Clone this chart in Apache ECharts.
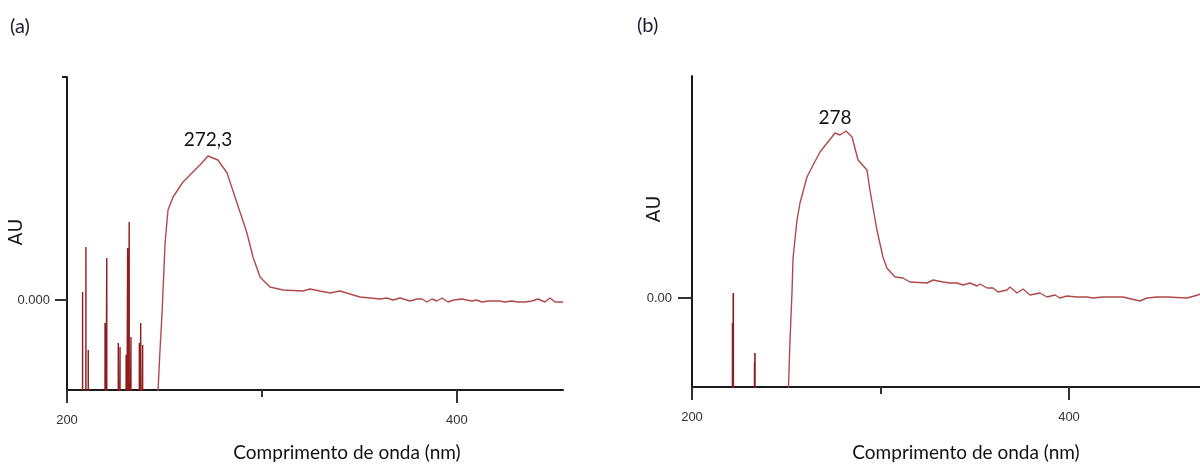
<!DOCTYPE html>
<html>
<head>
<meta charset="utf-8">
<script src="https://cdn.jsdelivr.net/npm/echarts@6/dist/echarts.min.js"></script>
<style>
html,body{margin:0;padding:0;background:#fff;}
#chart{width:1200px;height:466px;}
</style>
</head>
<body>
<div id="chart"></div>
<script>
// ---------- data ----------
const panelLabels = ['(a)', '(b)'];
const peakLabels = ['272,3', '278'];
const peakA = [272.3, 0.144];
const peakB = [275.9, 0.165];
const xAxisName = 'Comprimento de onda (nm)';
const yAxisName = 'AU';
const xTickLabels = [200, 400];
const xMinorTicks = [300];
const yTickValues = [0];

// spike tops (wavelength nm, AU) – spikes rise from below the axis
const spikesA = [
  [208.0, 0.008], [209.7, 0.053], [210.9, -0.050],
  [219.5, -0.023], [220.4, 0.042],
  [226.3, -0.043], [227.2, -0.047], [230.3, -0.055],
  [231.1, 0.052], [231.9, 0.078], [232.8, -0.037],
  [237.1, -0.043], [237.8, -0.023], [238.8, -0.045]
];
const spikesB = [
  [221.5, -0.025], [221.9, 0.005],
  [233.2, -0.064], [233.4, -0.055]
];

// main absorption curves (wavelength nm, AU)
const curveA = [
  [246.5, -0.3], [246.7, -0.09], [247.7, -0.05], [248.7, -0.015], [249.5, 0.02],
  [250.3, 0.057], [251.8, 0.090], [254.4, 0.103], [259.5, 0.118], [264.6, 0.128],
  [268.2, 0.135], [272.3, 0.144], [277.4, 0.140], [282.1, 0.127], [287.2, 0.097],
  [292.3, 0.067], [295.4, 0.043], [299.0, 0.023], [304.1, 0.013], [310.8, 0.010],
  [321.0, 0.009], [324.6, 0.011], [329.7, 0.009], [334.9, 0.007], [340.0, 0.009],
  [345.1, 0.006], [350.3, 0.003], [355.4, 0.002], [360.5, 0.001], [364.1, 0.002],
  [367.2, 0.000], [370.8, 0.002], [375.9, -0.001], [379.5, 0.001], [382.1, 0.001],
  [384.6, -0.002], [387.2, 0.001], [389.7, -0.001], [392.3, 0.002], [395.4, -0.002],
  [398.5, 0.000], [402.6, 0.001], [405.0, 0.000], [407.7, -0.001], [410.0, 0.000],
  [412.8, -0.002], [416.0, -0.001], [419.5, -0.001], [422.0, -0.001], [424.6, -0.002],
  [428.0, -0.001], [431.3, -0.002], [435.0, -0.002], [438.5, -0.001], [441.5, 0.001],
  [445.1, -0.002], [447.7, 0.002], [450.3, -0.002], [454.4, -0.002]
];
const curveB = [
  [250.7, -0.3], [251.2, -0.089], [252.0, -0.042], [253.1, 0.008], [253.6, 0.040],
  [254.6, 0.058], [255.7, 0.078], [257.3, 0.095], [261.0, 0.121], [263.7, 0.131],
  [267.9, 0.146], [272.1, 0.156], [275.9, 0.165], [278.5, 0.163], [281.7, 0.167],
  [284.9, 0.161], [288.1, 0.138], [292.8, 0.128], [294.4, 0.108], [298.1, 0.068],
  [301.3, 0.041], [303.4, 0.030], [307.7, 0.021], [311.9, 0.020], [315.6, 0.016],
  [324.7, 0.015], [327.9, 0.018], [333.2, 0.016], [336.9, 0.015], [340.6, 0.015],
  [343.8, 0.013], [347.5, 0.015], [351.2, 0.012], [352.8, 0.014], [356.5, 0.010],
  [359.7, 0.010], [362.3, 0.006], [367.1, 0.008], [368.7, 0.011], [372.4, 0.005],
  [375.6, 0.009], [379.3, 0.003], [384.6, 0.005], [388.3, 0.001], [392.6, 0.003],
  [395.2, 0.000], [398.9, 0.002], [404.2, 0.001], [409.5, 0.001], [412.7, 0.000],
  [418.0, 0.001], [428.6, 0.001], [437.7, -0.003], [441.4, 0.000], [446.7, 0.001],
  [452.0, 0.001], [462.6, 0.000], [468.4, 0.003], [469.5, 0.004]
];

// ---------- helpers ----------
const SPIKE_BASE = -0.3;
function spikeLine(tops) {
  const out = [];
  tops.forEach(([x, v]) => {
    out.push([x - 0.05, SPIKE_BASE], [x, v], [x + 0.05, SPIKE_BASE]);
  });
  return out;
}

const axisColor = '#1a1a1a';
const labelFont = { fontFamily: 'Liberation Sans', fontSize: 13, color: '#333' };
const nameFont = { fontFamily: 'Lato', fontSize: 19, color: '#111' };

function mainX(gridIndex, max, nameShift, nameGap) {
  return {
    type: 'value', gridIndex, min: 200, max,
    position: 'bottom',
    axisLine: { show: true, onZero: false, lineStyle: { color: axisColor, width: 2 } },
    axisTick: { show: true, customValues: xTickLabels, length: 13, inside: false,
                lineStyle: { color: '#333', width: 2 } },
    axisLabel: { show: true, customValues: xTickLabels, margin: 24, ...labelFont },
    splitLine: { show: false },
    name: xAxisName, nameLocation: 'middle', nameGap,
    nameTextStyle: { ...nameFont, padding: [0, 0, 0, nameShift] }
  };
}
function minorX(gridIndex, max) {
  return {
    type: 'value', gridIndex, min: 200, max, position: 'bottom', offset: 0,
    axisLine: { show: false, onZero: false },
    axisTick: { show: true, customValues: xMinorTicks, length: 7,
                lineStyle: { color: '#333', width: 2 } },
    axisLabel: { show: false }, splitLine: { show: false }
  };
}
function mainY(gridIndex, min, max, digits, margin, tickLen) {
  return {
    type: 'value', gridIndex, min, max, position: 'left',
    axisLine: { show: true, onZero: false, lineStyle: { color: axisColor, width: 2 } },
    axisTick: { show: true, customValues: yTickValues, length: tickLen,
                lineStyle: { color: '#333', width: 2 } },
    axisLabel: { show: true, customValues: yTickValues, margin,
                 formatter: v => v.toFixed(digits), ...labelFont },
    splitLine: { show: false }
  };
}

const curveColor = '#b04a4a';
const spikeColor = '#8e1d1d';

const option = {
  animation: false,
  backgroundColor: '#fff',
  grid: [
    { left: 67, top: 77, width: 496, height: 313, outerBoundsMode: 'none', containLabel: false },
    { left: 692, top: 76, width: 508, height: 311, outerBoundsMode: 'none', containLabel: false }
  ],
  xAxis: [
    mainX(0, 454.4, 64, 53),
    mainX(1, 469.5, 40, 56),
    minorX(0, 454.4),
    minorX(1, 469.5)
  ],
  yAxis: [
    mainY(0, -0.09, 0.223, 3, 17, 12),
    mainY(1, -0.089, 0.222, 2, 20, 14),
    {
      type: 'value', gridIndex: 0, min: -0.09, max: 0.223, position: 'left', offset: 0,
      axisLine: { show: false, onZero: false },
      axisTick: { show: true, customValues: [0.223], length: 5,
                  lineStyle: { color: axisColor, width: 2 } },
      axisLabel: { show: false }, splitLine: { show: false }
    }
  ],
  series: [
    {
      type: 'line', xAxisIndex: 0, yAxisIndex: 0, data: spikeLine(spikesA),
      symbol: 'none', clip: true, lineStyle: { color: spikeColor, width: 1.4 }, z: 3
    },
    {
      type: 'line', xAxisIndex: 0, yAxisIndex: 0, data: curveA,
      symbol: 'none', clip: true, lineStyle: { color: curveColor, width: 1.4 }, z: 3,
      markPoint: {
        symbol: 'circle', symbolSize: 0,
        data: [{ coord: peakA, value: peakLabels[0] }],
        label: { show: true, position: 'top', distance: 7, formatter: peakLabels[0],
                 fontFamily: 'Lato', fontSize: 19, color: '#111' }
      }
    },
    {
      type: 'line', xAxisIndex: 1, yAxisIndex: 1, data: spikeLine(spikesB),
      symbol: 'none', clip: true, lineStyle: { color: spikeColor, width: 1.6 }, z: 3
    },
    {
      type: 'line', xAxisIndex: 1, yAxisIndex: 1, data: curveB,
      symbol: 'none', clip: true, lineStyle: { color: curveColor, width: 1.4 }, z: 3,
      markPoint: {
        symbol: 'circle', symbolSize: 0,
        data: [{ coord: peakB, value: peakLabels[1] }],
        label: { show: true, position: 'top', distance: 6, formatter: peakLabels[1],
                 fontFamily: 'Lato', fontSize: 19, color: '#111' }
      }
    }
  ],
  graphic: [
    { type: 'text', x: 10, y: 17, style: { text: panelLabels[0], font: '20px Lato', fill: '#1b1b33' } },
    { type: 'text', x: 637, y: 16, style: { text: panelLabels[1], font: '20px Lato', fill: '#1b1b33' } },
    { type: 'text', x: 17, y: 232, rotation: Math.PI / 2,
      style: { text: yAxisName, font: '19px "DejaVu Sans"', fill: '#1a1a1a', align: 'center', verticalAlign: 'middle' } },
    { type: 'text', x: 655, y: 209, rotation: Math.PI / 2,
      style: { text: yAxisName, font: '19px "DejaVu Sans"', fill: '#1a1a1a', align: 'center', verticalAlign: 'middle' } }
  ]
};

const chart = echarts.init(document.getElementById('chart'), null, { renderer: 'canvas' });
chart.setOption(option);
</script>
</body>
</html>
